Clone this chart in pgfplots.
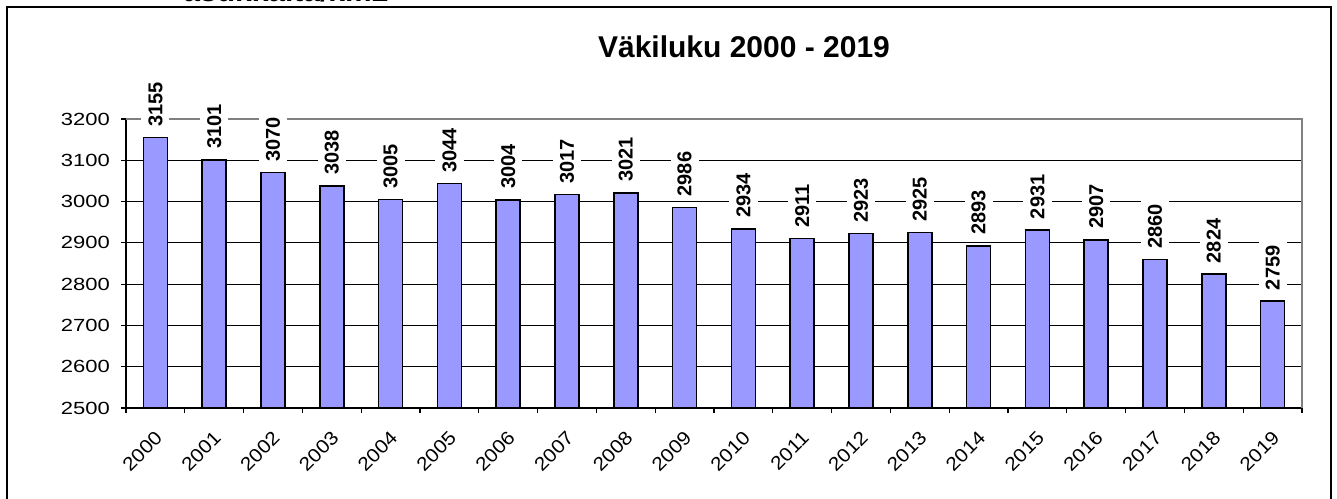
\documentclass[border=0pt]{standalone}
\usepackage{fontspec}
\setmainfont{Liberation Sans}
\newfontfamily\tickfont[FakeStretch=1.25]{Liberation Sans}
\newfontfamily\xtickfont[FakeStretch=1.1]{Liberation Sans}
\usepackage{pgfplots}
\pgfplotsset{compat=1.18}
\definecolor{barblue}{HTML}{9999FF}
\begin{document}
\begin{tikzpicture}
\path[use as bounding box] (0pt,0pt) rectangle (668.5pt,249pt);
\draw[line width=0.9pt] (3.5pt,-10pt) -- (3.5pt,245.5pt) -- (665.5pt,245.5pt) -- (665.5pt,-10pt);
\node[anchor=base west, inner sep=0pt, font=\bfseries\fontsize{15}{15}\selectfont] at (91.5pt,248pt) {asukkaita/km2};
\node[anchor=base, inner sep=0pt, font=\bfseries\fontsize{15}{18}\selectfont] at (372pt,220pt) {Väkiluku 2000 - 2019};
\begin{axis}[
  at={(63pt,45pt)}, anchor=south west, scale only axis,
  width=588pt, height=144.5pt,
  xmin=-0.5, xmax=19.5, ymin=2500, ymax=3200,
  axis lines=left, axis line style={-, black, line width=0.6pt},
  ytick={2500,2600,...,3200},
  ymajorgrids, major grid style={black, line width=0.5pt},
  xtick={0,...,19},
  xticklabels={2000,2001,2002,2003,2004,2005,2006,2007,2008,2009,2010,2011,2012,2013,2014,2015,2016,2017,2018,2019},
  minor xtick={-0.5,0.5,...,19.5},
  tick align=outside, major tick length=2.5pt, minor tick length=2.5pt,
  major x tick style={draw=none},
  tick style={black, line width=0.6pt},
  /pgf/number format/assume math mode=true,
  /pgf/number format/1000 sep={},
  yticklabel style={font=\tickfont\fontsize{8.8}{10}\selectfont, xshift=-2pt},
  xticklabel style={rotate=45, anchor=north east, font=\xtickfont\fontsize{9.5}{11}\selectfont, yshift=-2pt, xshift=-3pt},
  clip mode=individual,
]
\draw[gray, line width=0.6pt] (rel axis cs:0,1) -- (rel axis cs:1,1) -- (rel axis cs:1,0);
\addplot[ybar, bar width=12pt, fill=barblue, draw=black, line width=0.8pt,
  nodes near coords,
  every node near coord/.append style={rotate=90, anchor=west, fill=white, text=black,
    inner xsep=2.5pt, inner ysep=3.5pt, outer xsep=3pt,
    font=\bfseries\fontsize{10}{12}\selectfont}]
coordinates {
(0,3155) (1,3101) (2,3070) (3,3038) (4,3005) (5,3044) (6,3004) (7,3017) (8,3021) (9,2986)
(10,2934) (11,2911) (12,2923) (13,2925) (14,2893) (15,2931) (16,2907) (17,2860) (18,2824) (19,2759)
};
\end{axis}
\end{tikzpicture}
\end{document}
